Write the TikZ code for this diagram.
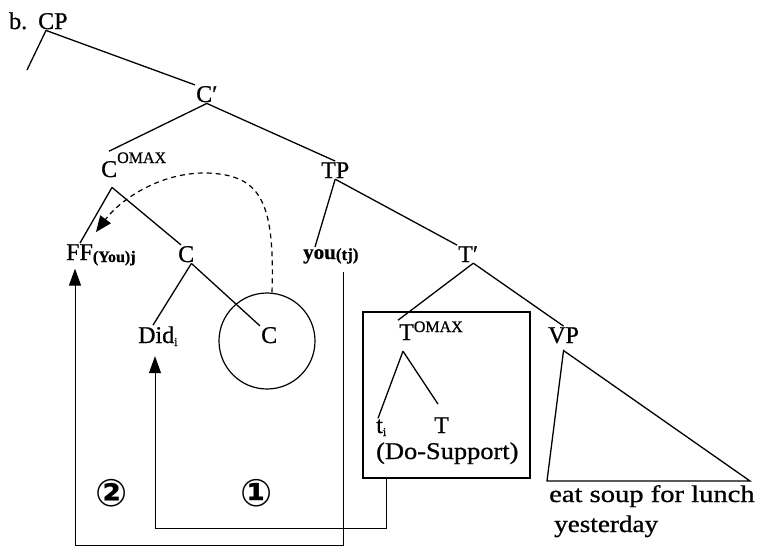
\documentclass[tikz,border=0pt]{standalone}
\usepackage{fontspec}
\setmainfont{Liberation Serif}[FakeBold=0.8]
\newfontfamily\dejavu{DejaVu Sans}
\usetikzlibrary{arrows.meta}
\newcommand{\omx}[1]{\raisebox{#1}{\fontsize{16}{18}\selectfont OMAX}}
\newcommand{\lowi}{\raisebox{-3pt}{\fontsize{12}{14}\selectfont i}}
\begin{document}
\begin{tikzpicture}[x=1pt,y=-1pt,
  lbl/.style={inner sep=1pt, anchor=base west, font=\fontsize{24}{28}\selectfont},
  num/.style={inner sep=0pt, font=\dejavu\bfseries\fontsize{38}{40}\selectfont},
  br/.style={line width=1.3pt},
  mv/.style={line width=1pt, -{Triangle[length=17pt,width=12pt]}},
  dsh/.style={line width=1.2pt, dash pattern=on 5pt off 4pt, -{Triangle[length=16pt,width=13pt]}}]
\useasboundingbox (0,0) rectangle (761,549);
% labels
\node[lbl] (b) at (8,29) {b.};
\node[lbl] (CP) at (37,29) {CP};
\node[lbl] (Cbar) at (195,102) {C′};
\node[lbl] (Comax) at (100,177) {C\omx{14pt}};
\node[lbl] (TP) at (320,178) {TP};
\node[lbl] (FF) at (65,260) {FF\raisebox{-2pt}{\fontsize{16}{18}\bfseries\selectfont(You)j}};
\node[lbl] (Cm) at (177,262) {C};
\node[lbl, font=\fontsize{21}{25}\bfseries\selectfont] (you) at (302,259) {you\raisebox{-1pt}{\fontsize{17}{19}\selectfont(tj)}};
\node[lbl] (Tbar) at (457,262) {T′};
\node[lbl] (Did) at (137,343) {Did\lowi};
\node[lbl] (Clow) at (260,343) {C};
\node[lbl] (Tomax) at (398,340) {T\omx{8pt}};
\node[lbl] (VP) at (547,343) {VP};
\node[lbl] (ti) at (375,433) {t\lowi};
\node[lbl] (T) at (433,433) {T};
\node[lbl] (do) at (375,459) {\scalebox{1.1}[1]{(Do-Support)}};
\node[lbl] (eat) at (548,502) {\scalebox{1.19}[1]{eat soup for lunch}};
\node[lbl] (yest) at (553,532) {\scalebox{1.13}[1]{yesterday}};
\node[num] (n2) at (112,493) {②};
\node[num] (n1) at (257,493) {①};
% circle and box
\node[draw, circle, line width=1.2pt, minimum size=96pt, inner sep=0] (circ) at (267,341) {};
\node[draw, rectangle, line width=1.2pt, minimum width=167pt, minimum height=166pt, inner sep=0] (box) at (446.5,395) {};
% tree branches
\coordinate (cpL) at (27,70);
\draw[br] ([xshift=9pt]CP.south west) -- (Cbar.north west);
\draw[br] ([xshift=9pt]CP.south west) -- (cpL);
\draw[br] (Cbar.south) -- ([xshift=9pt]Comax.north west);
\draw[br] (Cbar.south) -- (TP.north);
\draw[br] ([xshift=12pt,yshift=-9pt]Comax.south west) -- ([xshift=15pt]FF.north west);
\draw[br] ([xshift=12pt,yshift=-9pt]Comax.south west) -- ([xshift=4pt]Cm.north west);
\draw[br] (TP.south) -- ([xshift=13pt]you.north west);
\draw[br] (TP.south) -- (Tbar.north west);
\draw[br] ([xshift=-4pt]Cm.south east) -- ([xshift=16pt]Did.north west);
\draw[br] ([xshift=-4pt]Cm.south east) -- (Clow.north west);
\draw[br] ([xshift=-6pt]Tbar.south east) -- (Tomax.north west);
\draw[br] ([xshift=-6pt]Tbar.south east) -- (VP.north);
\draw[br] ([xshift=5pt,yshift=-10pt]Tomax.south west) -- ([xshift=3pt]ti.north west);
\draw[br] ([xshift=5pt,yshift=-10pt]Tomax.south west) -- ([xshift=5pt,yshift=12pt]T.north west);
% VP triangle
\coordinate (vpl) at (547,481);
\coordinate (vpr) at (750,481);
\draw[br, line join=miter] ([yshift=-6pt]VP.south) -- (vpl) -- (vpr) -- cycle;
% dashed movement
\draw[dsh] ([xshift=5pt]circ.north) .. controls (275,200) and (260,175) .. (207,173)
  .. controls (160,172) and (120,200) .. ([xshift=31pt,yshift=11pt]FF.north west);
% L-shaped movements
\draw[mv] ([xshift=24pt]box.south west) -- ++(0,50) -| ([xshift=18pt,yshift=-9pt]Did.south west);
\draw[mv] ([xshift=-16pt,yshift=-7pt]you.south east) -- ++(0,274) -| ([xshift=10pt,yshift=-2pt]FF.south west);
\end{tikzpicture}
\end{document}
